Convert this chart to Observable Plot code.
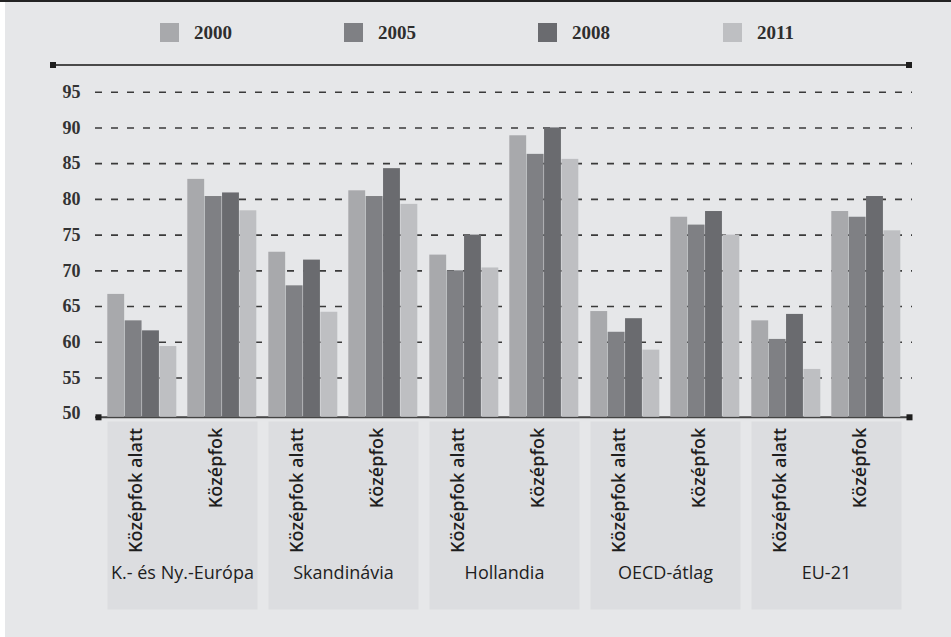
<!DOCTYPE html>
<html>
<head>
<meta charset="utf-8">
<script src="https://cdn.jsdelivr.net/npm/d3@7"></script>
<script src="https://cdn.jsdelivr.net/npm/@observablehq/plot@0.6"></script>
<style>
  html, body { margin: 0; padding: 0; background: #ffffff; overflow: hidden; }
  #page { position: relative; width: 951px; height: 637px; }
  #bg { position: absolute; left: 5px; top: 0; width: 946px; height: 637px; background: #e6e7e9; }
  #topedge { position: absolute; left: 0; top: 0; width: 951px; height: 2px; background: #232323; }
  .layer { position: absolute; left: 0; top: 0; }
  .rule { position: absolute; background: #4a4a4a; }
  .cap { position: absolute; width: 6px; height: 6px; background: #1e1e1e; }
  .key { position: absolute; top: 23px; width: 19px; height: 19px; }
  .keytext { position: absolute; top: 20px; font: bold 19px "Liberation Serif", serif; color: #2e2e2e; line-height: 26px; }
</style>
</head>
<body>
<div id="page">
  <div id="bg"></div>
  <div id="topedge"></div>
  <div id="chart"></div>
</div>
<script>
// Categories
const groups = ["K.- és Ny.-Európa", "Skandinávia", "Hollandia", "OECD-átlag", "EU-21"];
const levels = ["Középfok alatt", "Középfok"];
const years = ["2000", "2005", "2008", "2011"];

// Values per year, in group order, each group: [Középfok alatt, Középfok]
const values2000 = [66.7, 82.8, 72.6, 81.2, 72.2, 88.9, 64.3, 77.5, 63.0, 78.3];
const values2005 = [63.0, 80.4, 67.9, 80.4, 70.0, 86.3, 61.4, 76.4, 60.4, 77.5];
const values2008 = [61.6, 80.9, 71.5, 84.3, 75.0, 90.0, 63.3, 78.3, 63.9, 80.4];
const values2011 = [59.4, 78.4, 64.2, 79.3, 70.4, 85.6, 58.9, 75.0, 56.2, 75.6];

// Y axis tick labels and dashed grid lines
const yTicks = [50, 55, 60, 65, 70, 75, 80, 85, 90, 95];
const gridTicks = [55, 60, 65, 70, 75, 80, 85, 90, 95];

const yearColors = ["#a8a9ac", "#7f8084", "#6a6b6f", "#bebfc2"];
const seriesByYear = [values2000, values2005, values2008, values2011];

// Long-format table built from the arrays above
const rows = [];
years.forEach((year, yi) => {
  groups.forEach((group, gi) => {
    levels.forEach((level, li) => {
      rows.push({year, group, level, value: seriesByYear[yi][gi * 2 + li]});
    });
  });
});
const levelRows = groups.flatMap(group => levels.map(level => ({group, level})));

// Layout
const W = 951, H = 637;
const yFloor = 49.5;           // bottom of the value axis (bars start here)
const plotTop = 91.7, plotBottom = 416.8;
const frameLeft = 95, frameRight = 912;
const barsLeft = 106.7, barsRight = 901.7;
const gap = 11.1;
const clusterW = (barsRight - barsLeft - 9 * gap) / 10;
const groupW = 2 * clusterW + gap;
const barW = clusterW / 4;

const page = document.getElementById("page");

// Background layer: dashed grid, value labels, base axis with square caps
const back = Plot.plot({
  width: W,
  height: H,
  marginTop: plotTop,
  marginBottom: H - plotBottom,
  marginLeft: frameLeft,
  marginRight: W - frameRight,
  style: {background: "transparent", overflow: "visible", fontFamily: "'Liberation Serif', serif", fontSize: "18px", fontWeight: "bold", color: "#333"},
  y: {domain: [yFloor, 95], ticks: yTicks, tickSize: 0, tickPadding: 15, tickFormat: d => String(d), label: null},
  marks: [
    Plot.ruleY(gridTicks, {stroke: "#3a3a3a", strokeWidth: 1.6, strokeDasharray: "7,9"}),
    Plot.ruleY([yFloor], {stroke: "#444", strokeWidth: 2}),
    Plot.dot([yFloor], {y: d => d, frameAnchor: "left", dx: 3, symbol: "square", r: 3.4, fill: "#1e1e1e", stroke: "none"}),
    Plot.dot([yFloor], {y: d => d, frameAnchor: "right", dx: -3, symbol: "square", r: 3.4, fill: "#1e1e1e", stroke: "none"})
  ]
});
back.classList.add("layer");
page.appendChild(back);

// Foreground layer: group panels, bars and category labels
const front = Plot.plot({
  width: W,
  height: H,
  marginTop: plotTop,
  marginBottom: H - plotBottom,
  marginLeft: barsLeft,
  marginRight: W - barsRight,
  style: {background: "transparent", overflow: "visible", fontFamily: "'Open Sans', sans-serif", fontSize: "18px", color: "#222"},
  fx: {domain: groups, paddingInner: gap / (groupW + gap), paddingOuter: 0, axis: null},
  x: {domain: levels, paddingInner: gap / (clusterW + gap), paddingOuter: 0, axis: null},
  y: {domain: [yFloor, 95], axis: null},
  marks: [
    Plot.frame({fill: "#dcdde0", stroke: "none", insetTop: 421 - plotTop, insetBottom: -(609 - plotBottom)}),
    ...years.map((year, i) => Plot.barY(rows.filter(d => d.year === year), {
      fx: "group",
      x: "level",
      y1: yFloor,
      y2: "value",
      fill: yearColors[i],
      insetLeft: i * barW,
      insetRight: (3 - i) * barW
    })),
    Plot.text(levelRows, {
      fx: "group",
      x: "level",
      text: "level",
      rotate: -90,
      textAnchor: "end",
      frameAnchor: "bottom",
      dy: 10.5,
      fontSize: 18,
      fontWeight: 600,
      fill: "#1e1e1e"
    }),
    Plot.text(groups, {
      fx: d => d,
      text: d => d,
      frameAnchor: "bottom",
      dy: 161.5,
      fontSize: 18,
      fill: "#1e1e1e"
    })
  ]
});
front.classList.add("layer");
page.appendChild(front);

// Top rule with square caps
const topRule = document.createElement("div");
topRule.className = "rule";
Object.assign(topRule.style, {left: "53px", top: "64px", width: "856px", height: "2px"});
page.appendChild(topRule);
[50, 906].forEach(x => {
  const c = document.createElement("div");
  c.className = "cap";
  Object.assign(c.style, {left: x + "px", top: "62px"});
  page.appendChild(c);
});

// Legend
const keyX = [160, 344, 538, 723];
years.forEach((year, i) => {
  const sw = document.createElement("div");
  sw.className = "key";
  sw.style.left = keyX[i] + "px";
  sw.style.background = yearColors[i];
  page.appendChild(sw);
  const t = document.createElement("div");
  t.className = "keytext";
  t.style.left = (keyX[i] + 34) + "px";
  t.textContent = year;
  page.appendChild(t);
});
</script>
</body>
</html>
